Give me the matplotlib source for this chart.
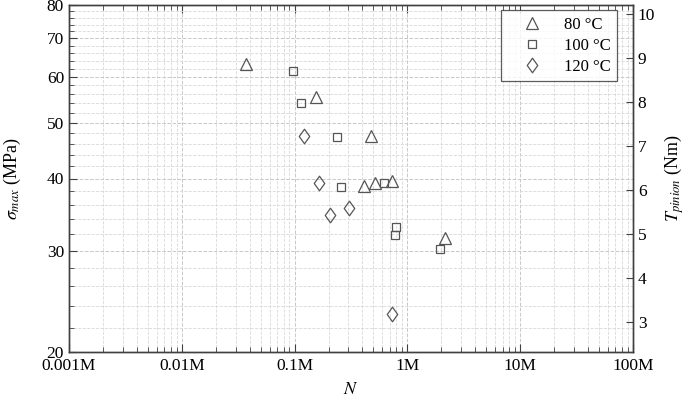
import matplotlib
import matplotlib.pyplot as plt
from matplotlib.path import Path
from matplotlib.ticker import FixedLocator, NullFormatter

matplotlib.use("Agg")

plt.rcParams["font.family"] = ["Liberation Serif", "DejaVu Serif"]
plt.rcParams["mathtext.fontset"] = "stix"

# cycles to failure (N) and max stress (MPa)
n_80 = [37100, 155700, 475500, 415000, 519000, 735000, 2168000]
s_80 = [63.2, 55.4, 47.4, 38.8, 39.3, 39.6, 31.6]
n_100 = [97400, 113300, 237600, 259500, 620500, 797500, 771500, 1958000]
s_100 = [61.5, 54.1, 47.2, 38.7, 39.3, 33.0, 31.9, 30.2]
n_120 = [120400, 164500, 207300, 301800, 726000]
s_120 = [47.4, 39.3, 34.6, 35.5, 23.3]

x_ticks = [1e3, 1e4, 1e5, 1e6, 1e7, 1e8]
x_labels = ["0.001M", "0.01M", "0.1M", "1M", "10M", "100M"]
y_ticks = [20, 30, 40, 50, 60, 70, 80]
y_minor = list(range(20, 81, 2))
t_ticks = [3, 4, 5, 6, 7, 8, 9, 10]

edge = "#555555"
spine_c = "#404040"

# diamond a bit wider than matplotlib's thin one
diamond = Path([(0, 1), (0.72, 0), (0, -1), (-0.72, 0), (0, 1)],
               [Path.MOVETO, Path.LINETO, Path.LINETO, Path.LINETO, Path.CLOSEPOLY])

fig = plt.figure(figsize=(6.85, 4.0), dpi=100)
ax = fig.add_axes([0.1007, 0.12, 0.8233, 0.8675])

mk = dict(linestyle="none", markerfacecolor="none", markeredgecolor=edge, markeredgewidth=0.9)
ax.plot(n_80, s_80, marker="^", markersize=8.5, label="80 °C", **mk)
ax.plot(n_100, s_100, marker="s", markersize=6, label="100 °C", **mk)
ax.plot(n_120, s_120, marker=diamond, markersize=10.5, label="120 °C", **mk)

ax.set_xscale("log")
ax.set_yscale("log")
ax.set_xlim(1e3, 1e8)
ax.set_ylim(20, 80)

ax.xaxis.set_major_locator(FixedLocator(x_ticks))
ax.set_xticklabels(x_labels)
ax.yaxis.set_major_locator(FixedLocator(y_ticks))
ax.yaxis.set_minor_locator(FixedLocator(y_minor))
ax.set_yticklabels([str(v) for v in y_ticks])
ax.yaxis.set_minor_formatter(NullFormatter())
ax.xaxis.set_minor_formatter(NullFormatter())

ax.tick_params(which="both", direction="in", top=True, labelsize=12.5, color=spine_c)
ax.tick_params(which="major", length=6)
ax.tick_params(which="minor", length=3.5)
ax.tick_params(axis="x", pad=4)

ax.grid(True, which="major", color="#c8c8c8", linestyle="--", linewidth=0.7)
ax.grid(True, which="minor", color="#d8d8d8", linestyle="--", linewidth=0.6)

for sp in ax.spines.values():
    sp.set_color(spine_c)
    sp.set_linewidth(1.0)

ax.set_xlabel("$N$", fontsize=13, labelpad=5)
ax.set_ylabel(r"$\sigma_{max}$ (MPa)", fontsize=13, labelpad=17)

ax2 = ax.twinx()
ax2.set_ylim(2.32, 10.2)
ax2.yaxis.set_major_locator(FixedLocator(t_ticks))
ax2.tick_params(direction="in", length=5, labelsize=12.5, color=spine_c)
ax2.set_ylabel(r"$T_{pinion}$ (Nm)", fontsize=13, labelpad=5)
for sp in ax2.spines.values():
    sp.set_color(spine_c)
    sp.set_linewidth(1.0)

leg = ax.legend(loc="upper right", fontsize=12, frameon=True, fancybox=False,
                borderaxespad=0.0, bbox_to_anchor=(0.9716, 0.9856),
                handlelength=2.9, handletextpad=0.45, borderpad=0.4, labelspacing=0.3)
leg.get_frame().set_edgecolor("#333333")
leg.get_frame().set_linewidth(0.9)
leg.set_zorder(5)

fig.savefig("out.png", dpi=100)
